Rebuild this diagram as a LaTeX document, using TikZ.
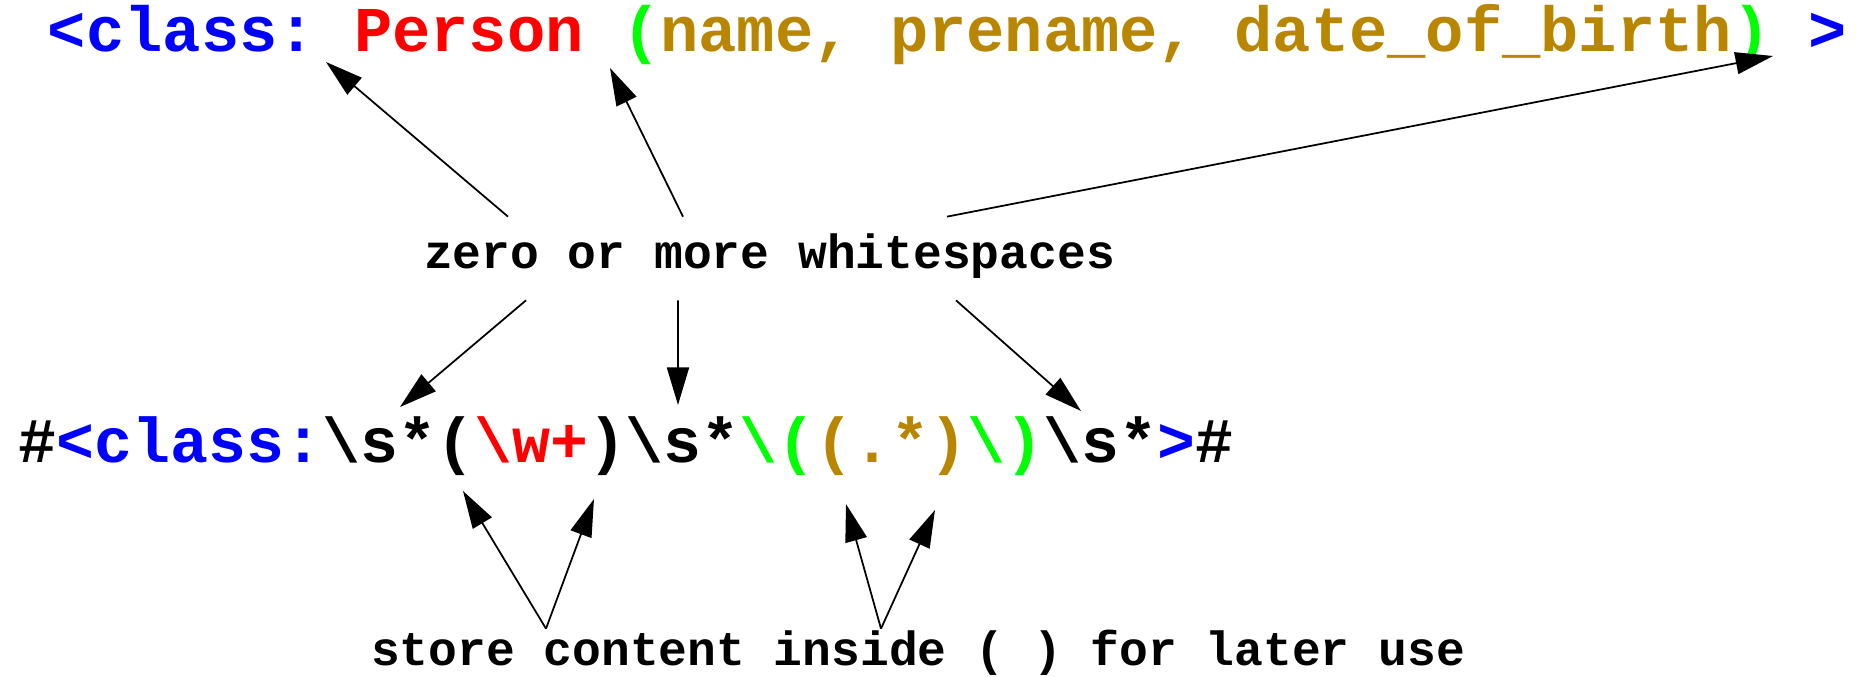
\documentclass[tikz,border=0pt]{standalone}
\usepackage{fontspec}
\setmonofont{Liberation Mono}
\usetikzlibrary{arrows.meta}
\definecolor{tagblue}{RGB}{0,0,255}
\definecolor{namered}{RGB}{255,0,0}
\definecolor{parengreen}{RGB}{0,255,0}
\definecolor{argolive}{RGB}{184,134,0}
\newcommand{\bs}{\textbackslash}

\begin{document}
\begin{tikzpicture}[
    pointer/.style={line width=1pt, -{Triangle[length=7.5mm, width=4.4mm]}},
    code/.style={inner sep=0pt, anchor=base, font=\ttfamily\bfseries\fontsize{36pt}{40pt}\selectfont},
    remark/.style={inner sep=0pt, anchor=base, font=\ttfamily\bfseries\fontsize{27.3pt}{30pt}\selectfont}]
  \useasboundingbox (0, 0) rectangle (37.26, 13.54);

  % the matched line and the pattern
  \node[code, font=\ttfamily\bfseries\fontsize{36.3pt}{40pt}\selectfont] (line) at (18.95, 12.5)
    {\color{tagblue}<class: \color{namered}Person \color{parengreen}(\color{argolive}name, prename, date\_of\_birth\color{parengreen}) \color{tagblue}>};
  \node[code] (regex) at (12.52, 4.28)
    {\#\color{tagblue}<class:\color{black}\bs s*(\color{namered}\bs w+\color{black})\bs s*\color{parengreen}\bs(\color{argolive}(.*)\color{parengreen}\bs)\color{black}\bs s*\color{tagblue}>\color{black}\#};

  % labels
  \node[remark, text height=1.04cm, text depth=0.62cm] (ws) at (15.39, 8.16) {zero or more whitespaces};
  \node[remark, text height=0.74cm] (note) at (18.36, 0.22) {store content inside ( ) for later use};

  \coordinate (gapTag) at (6.52, 12.3);
  \coordinate (gapName) at (12.2, 12.18);
  \coordinate (gapEnd) at (35.46, 12.42);
  \coordinate (spaceA) at (8.0, 5.4);
  \coordinate (spaceB) at (13.56, 5.44);
  \coordinate (spaceC) at (21.62, 5.32);
  \coordinate (openWord) at (9.26, 3.72);
  \coordinate (closeWord) at (11.88, 3.56);
  \coordinate (openArgs) at (16.92, 3.46);
  \coordinate (closeArgs) at (18.7, 3.34);

  \foreach \dx/\target in {-5.23/gapTag, -1.73/gapName, 3.55/gapEnd}
    \draw[pointer] ([xshift=\dx cm]ws.north) -- (\target);
  \foreach \dx/\target in {-4.87/spaceA, -1.83/spaceB, 3.73/spaceC}
    \draw[pointer] ([xshift=\dx cm]ws.south) -- (\target);

  \draw[pointer] ([xshift=-7.44cm]note.north) -- (openWord);
  \draw[pointer] ([xshift=-7.44cm]note.north) -- (closeWord);
  \draw[pointer] ([xshift=-0.74cm]note.north) -- (openArgs);
  \draw[pointer] ([xshift=-0.74cm]note.north) -- (closeArgs);
\end{tikzpicture}
\end{document}
